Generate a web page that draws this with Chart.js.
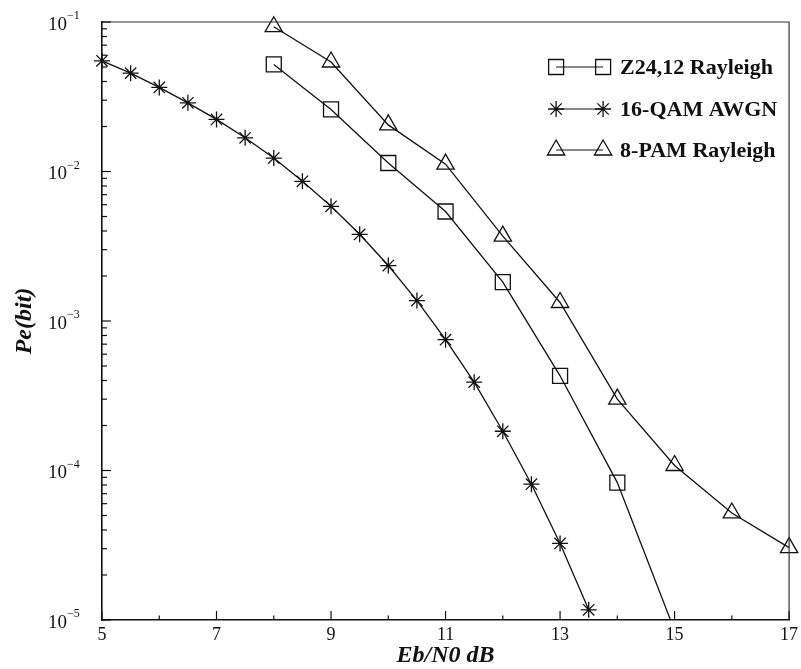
<!DOCTYPE html>
<html>
<head>
<meta charset="utf-8">
<script src="https://cdn.jsdelivr.net/npm/chart.js@4.4.0/dist/chart.umd.min.js"></script>
<style>
  html, body { margin: 0; padding: 0; background: #fff; }
  #wrap { width: 801px; height: 669px; }
</style>
</head>
<body>
<div id="wrap"><canvas id="berChart" width="801" height="669"></canvas></div>
<script>
// Eb/N0 in dB for each curve
const qamEbN0 = [5, 5.5, 6, 6.5, 7, 7.5, 8, 8.5, 9, 9.5, 10, 10.5, 11, 11.5, 12, 12.5, 13, 13.5];
const qamPe = [5.5e-2, 4.55e-2, 3.65e-2, 2.88e-2, 2.23e-2, 1.68e-2, 1.23e-2, 8.6e-3, 5.85e-3, 3.8e-3,
               2.35e-3, 1.37e-3, 7.5e-4, 3.9e-4, 1.83e-4, 8.1e-5, 3.25e-5, 1.17e-5];

const z24EbN0 = [8, 9, 10, 11, 12, 13, 14, 15];
const z24Pe = [5.2e-2, 2.6e-2, 1.14e-2, 5.4e-3, 1.82e-3, 4.3e-4, 8.3e-5, 8.5e-6];

const pamEbN0 = [8, 9, 10, 11, 12, 13, 14, 15, 16, 17];
const pamPe = [9.3e-2, 5.4e-2, 2.05e-2, 1.12e-2, 3.7e-3, 1.33e-3, 3.0e-4, 1.08e-4, 5.2e-5, 3.05e-5];

const seriesNames = ['Z24,12 Rayleigh', '16-QAM AWGN', '8-PAM Rayleigh'];
const xTickLabels = ['5', '7', '9', '11', '13', '15', '17'];
const yTickExponents = [-1, -2, -3, -4, -5];

const SERIF = "'Liberation Serif', 'Times New Roman', serif";
const INK = '#111';

function toPoints(xs, ys) {
    return xs.map((x, i) => ({ x: x, y: ys[i] }));
}

function lineSet(label, xs, ys, style, radius, clip) {
    return {
        label: label,
        data: toPoints(xs, ys),
        borderColor: INK,
        borderWidth: 1.3,
        pointStyle: style,
        pointRadius: radius,
        pointBorderColor: INK,
        pointBorderWidth: 1.3,
        pointBackgroundColor: 'rgba(0,0,0,0)',
        tension: 0,
        fill: false,
        clip: clip
    };
}

// inward ticks, frame, tick labels, titles and the legend
const decorPlugin = {
    id: 'decor',
    afterDraw(chart) {
        const ctx = chart.ctx;
        const area = chart.chartArea;
        const xs = chart.scales.x;
        const ys = chart.scales.y;
        ctx.save();

        // frame top and right
        ctx.strokeStyle = '#333';
        ctx.lineWidth = 1.2;
        ctx.beginPath();
        ctx.moveTo(area.left, area.top);
        ctx.lineTo(area.right, area.top);
        ctx.lineTo(area.right, area.bottom);
        ctx.stroke();

        // x ticks and labels
        ctx.strokeStyle = INK;
        ctx.lineWidth = 1.2;
        for (let v = xs.min; v <= xs.max; v++) {
            const px = xs.getPixelForValue(v);
            const major = xTickLabels.includes(String(v));
            ctx.beginPath();
            ctx.moveTo(px, area.bottom);
            ctx.lineTo(px, area.bottom - (major ? 9 : 4.5));
            ctx.stroke();
        }
        ctx.fillStyle = INK;
        ctx.font = '18px ' + SERIF;
        ctx.textAlign = 'center';
        ctx.textBaseline = 'middle';
        xTickLabels.forEach(t => {
            ctx.fillText(t, xs.getPixelForValue(Number(t)), area.bottom + 15);
        });

        // y ticks and labels
        yTickExponents.forEach(e => {
            const py = ys.getPixelForValue(Math.pow(10, e));
            ctx.beginPath();
            ctx.moveTo(area.left, py);
            ctx.lineTo(area.left + 9, py);
            ctx.stroke();
            if (e > -5) {
                for (let k = 2; k <= 9; k++) {
                    const my = ys.getPixelForValue(k * Math.pow(10, e - 1));
                    ctx.beginPath();
                    ctx.moveTo(area.left, my);
                    ctx.lineTo(area.left + 5, my);
                    ctx.stroke();
                }
            }
            ctx.textBaseline = 'middle';
            ctx.textAlign = 'left';
            ctx.font = '19px ' + SERIF;
            ctx.fillText('10', area.left - 54, py + 3);
            ctx.font = '12px ' + SERIF;
            ctx.fillText('\u2212' + Math.abs(e), area.left - 35, py - 6);
        });

        // axis titles
        ctx.font = 'italic bold 24px ' + SERIF;
        ctx.textAlign = 'center';
        ctx.textBaseline = 'middle';
        ctx.fillText('Eb/N0 dB', (area.left + area.right) / 2, 656);
        ctx.save();
        ctx.translate(25, (area.top + area.bottom) / 2);
        ctx.rotate(-Math.PI / 2);
        ctx.fillText('Pe(bit)', 0, 0);
        ctx.restore();

        // legend
        const rowY = [67, 109, 150];
        const x1 = area.right - 233;
        const x2 = area.right - 186;
        chart.data.datasets.forEach((ds, i) => {
            const y = rowY[i];
            ctx.strokeStyle = INK;
            ctx.lineWidth = 1.2;
            ctx.beginPath();
            ctx.moveTo(x1, y);
            ctx.lineTo(x2, y);
            ctx.stroke();
            ctx.fillStyle = 'rgba(0,0,0,0)';
            ctx.lineWidth = 1.3;
            const opts = { pointStyle: ds.pointStyle, radius: ds.pointRadius, rotation: 0, borderWidth: 1.3 };
            Chart.helpers.drawPoint(ctx, opts, x1, y);
            Chart.helpers.drawPoint(ctx, opts, x2, y);
            ctx.fillStyle = INK;
            ctx.font = 'bold 22px ' + SERIF;
            ctx.textAlign = 'left';
            ctx.textBaseline = 'middle';
            ctx.fillText(ds.label, area.right - 169, y + 1);
        });

        ctx.restore();
    }
};

new Chart(document.getElementById('berChart').getContext('2d'), {
    type: 'line',
    data: {
        datasets: [
            lineSet(seriesNames[0], z24EbN0, z24Pe, 'rect', 10.6, { left: 15, top: 15, right: 15, bottom: 0 }),
            lineSet(seriesNames[1], qamEbN0, qamPe, 'star', 8, false),
            lineSet(seriesNames[2], pamEbN0, pamPe, 'triangle', 10, false)
        ]
    },
    options: {
        responsive: false,
        animation: false,
        devicePixelRatio: 1,
        layout: { padding: { top: 22, right: 7, left: 0, bottom: 0 } },
        plugins: {
            legend: { display: false },
            tooltip: { enabled: false }
        },
        scales: {
            x: {
                type: 'linear',
                min: 5,
                max: 17,
                grid: { drawOnChartArea: false, drawTicks: false },
                border: { display: true, color: INK, width: 1.6 },
                ticks: { display: false, stepSize: 1 },
                afterFit: s => { s.height = 49; }
            },
            y: {
                type: 'logarithmic',
                min: 1e-5,
                max: 1e-1,
                grid: { drawOnChartArea: false, drawTicks: false },
                border: { display: true, color: INK, width: 1.6 },
                ticks: { display: false },
                afterFit: s => { s.width = 102; }
            }
        }
    },
    plugins: [decorPlugin]
});
</script>
</body>
</html>
